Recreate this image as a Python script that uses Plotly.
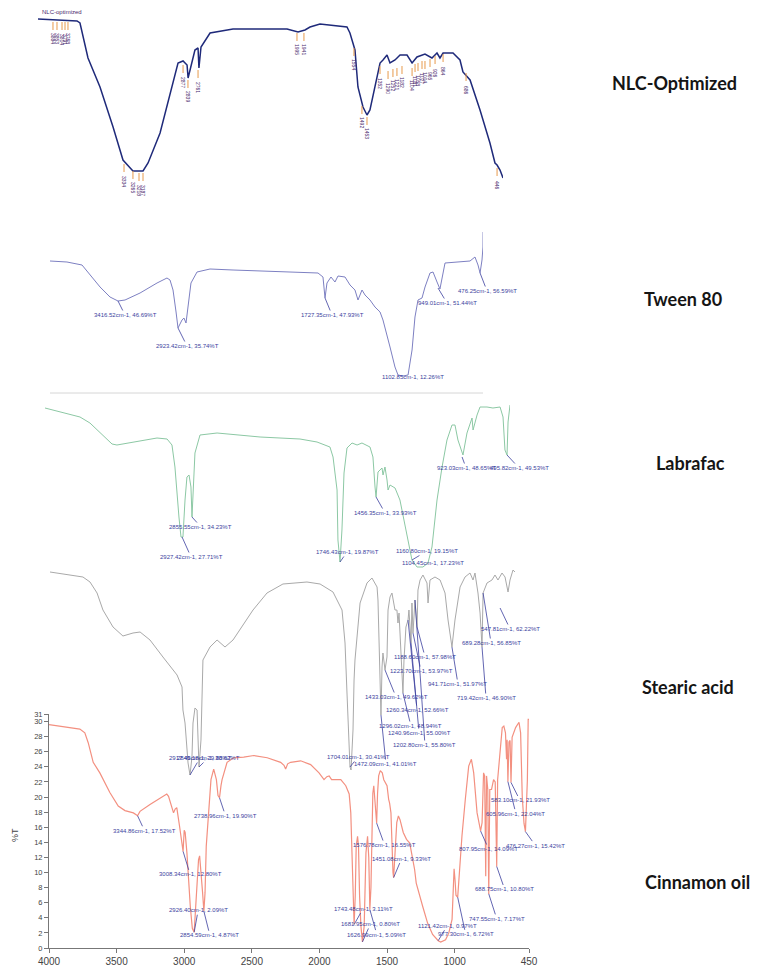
import plotly.graph_objects as go

W, H = 760, 975
OFF = 8  # page body margin of the viewer

# ---------------- data (wavenumber cm-1, %T) ----------------
nlc_wn = [4000,3698,3675,3613,3520,3419,3342,3265,3187,3148,3055,2978,2916,2877,2846,2838,2808,2785,2761,2754,
          2738,2668,2490,2072,1987,1933,1894,1817,1608,1585,1546,1523,1484,1453,1430,1391,1352,1329,1298,1275,
          1236,1197,1143,1104,1066,1004,950,911,888,864,787,733,710,655,578,501,462,446,423,400]
nlc_T = [98,97,96,78.5,64,44,27.5,22,22,26,41,61,76,77,75,68.5,76.5,82.5,83.5,73.5,
         84,91,93,93,91.5,92.5,94,95.5,94,91,82.5,64,54,50,52.5,64,76,77.5,80,76,
         77.5,80,80,76,79,80.5,78.5,81,78.5,81,81,77.5,71.5,67.5,52.5,36,26,25,22.5,18.5]
nlc_mark_wn = [3884,3853,3814,3791,3768,3334,3265,3218,3187,2877,2839,2761,1995,1941,1554,1492,1453,
               1352,1290,1252,1221,1182,1104,1081,1058,1027,1004,965,926,864,686,446]
nlc_mark_T = [97,97,97,97,97,26,22.5,21.5,21.5,75.5,68,73,91.5,91.5,84,55,49.5,
              75,72.5,73.5,74,75,74,76,76.5,77.5,77.5,78.5,80,81,71.5,24]

tw_wn = [4000,3860,3736,3686,3587,3505,3439,3381,3257,3117,3035,3010,2985,2960,2944,2911,2895,2878,2861,2837,
         2787,2680,2490,2210,1937,1789,1748,1731,1715,1682,1649,1624,1566,1525,1484,1459,1426,1401,1360,1319,
         1277,1253,1195,1154,1129,1088,1046,1013,989,964,931,906,865,840,807,783,741,642,535,494,
         469,452,436,428,427]
tw_T = [69.5,69,67.5,64,56.5,51.5,49.5,50,53.5,58.5,61,60,55,44,36,40,41,38.5,46.5,58.5,
        64,65.5,65,64.5,64,63.5,61.5,51,58.5,61.5,59,62,61.5,57.5,55,50,55,52.5,50,46.5,
        44,40,26.5,16.5,12.5,12,12.5,25,41.5,50,51,56.5,63.5,64,59,55.5,68.5,69,69.5,71.5,
        67.5,63.5,70,76.5,84]
tw_lab = ["3416.52cm-1, 46.69%T", "2923.42cm-1, 35.74%T", "1727.35cm-1, 47.93%T",
          "1102.85cm-1, 12.26%T", "949.01cm-1, 51.44%T", "476.25cm-1, 56.59%T"]
tw_lab_wn = [3439, 2944, 1731, 1088, 799, 452]
tw_lab_T = [49.5, 36, 51, 12, 56, 63.5]

lb_wn = [4000,3884,3729,3652,3574,3481,3443,3319,3133,3055,3017,2994,2978,2963,2947,2932,2916,2901,2885,2870,
         2862,2854,2839,2800,2668,2335,2026,1894,1794,1770,1739,1732,1716,1701,1685,1662,1623,1584,1546,1484,
         1461,1445,1437,1422,1391,1383,1368,1352,1344,1329,1290,1252,1213,1190,1159,1120,1074,1035,1004,965,
         926,888,849,826,803,764,733,710,694,686,655,632,578,532,477,454,439,423,415,400]
lb_T = [96,94,91.5,88.5,83.5,78,77.5,79,81,80.5,77.5,66.5,51.5,41.5,31.5,31.5,50,61.5,62.5,56.5,
        41.5,55,73.5,82.5,83.5,81.5,80.5,79,76.5,71.5,55,30,19,35,63.5,76,78.5,77.5,78.5,76.5,
        71.5,56.5,51.5,64,66,62.5,66.5,60,55,57.5,56,50,38.5,30,20,16.5,16.5,18.5,26.5,50,
        66.5,80,87.5,87.5,80,72.5,83.5,88.5,91,85,92.5,96.5,96.5,96,96.5,91.5,75,72.5,89,97.5]
lb_lab = ["2855.55cm-1, 34.23%T", "2927.42cm-1, 27.71%T", "1746.43cm-1, 19.87%T",
          "1456.35cm-1, 33.93%T", "1160.80cm-1, 19.15%T", "1104.45cm-1, 17.23%T",
          "923.03cm-1, 48.65%T", "495.82cm-1, 49.53%T"]
lb_lab_wn = [2862, 2939, 1716, 1437, 1159, 1120, 771, 423]
lb_lab_T = [41.5, 31.5, 19, 51.5, 20, 16.5, 71.5, 72.5]

st_wn = [4000,3847,3748,3694,3640,3595,3518,3442,3365,3311,3235,3136,3028,2990,2983,2967,2944,2929,2914,2906,
         2891,2875,2868,2860,2845,2837,2830,2776,2722,2661,2600,2447,2340,2218,2034,1934,1835,1766,1743,1728,
         1720,1705,1697,1682,1674,1667,1628,1575,1537,1498,1491,1468,1460,1453,1437,1422,1414,1399,1384,1376,
         1361,1346,1338,1330,1315,1300,1292,1277,1261,1254,1238,1231,1223,1208,1192,1185,1169,1147,1116,1108,
         1093,1055,1016,978,955,925,902,863,825,787,764,749,726,710,695,687,657,619,596,573,
         542,519,496,481,458,443]
st_T = [69.6,69,68.6,67.6,65.4,62,58.6,56.8,57.4,57.6,56,52.6,49,46.6,42,39.4,31.4,29,32.6,39.4,
        42.4,42,37.4,30.6,36,44,52,54.6,56,54.6,56,62,65.4,67.2,67.6,67.2,65.6,62,55.4,45.4,
        39.4,30.6,30,38,48,52,63.4,67.4,68.4,66.6,64,41,50.6,53.4,50,52.6,62,64.6,65.4,64,
        62,62,59.4,61.4,54.6,45.4,52,58.6,60,62,55.4,63.4,57.4,64,58.6,66,68,69,67.4,63.4,
        68,68.6,68,65.4,60,54.6,60,66.6,68.6,69.4,68,69.4,65.4,61.4,54.6,65.4,67.4,68,69,68,
        69.4,68.6,65.6,68,70,69.6]
st_lab = ["2917.45cm-1, 29.88%T", "2849.18cm-1, 30.62%T", "1704.01cm-1, 30.41%T",
          "1472.09cm-1, 41.01%T", "1433.03cm-1, 49.62%T", "1296.02cm-1, 48.94%T",
          "1240.96cm-1, 55.00%T", "1202.80cm-1, 55.80%T", "1260.34cm-1, 52.66%T",
          "1188.60cm-1, 57.98%T", "1223.70cm-1, 53.97%T", "941.71cm-1, 51.97%T",
          "719.42cm-1, 46.90%T", "547.81cm-1, 62.22%T", "689.28cm-1, 56.85%T"]
st_lab_wn = [2929, 2860, 1705, 1468, 1437, 1300, 1238, 1208, 1261, 1192, 1223, 925, 695, 557, 687]
st_lab_T = [29, 30.6, 30.6, 41, 50, 45.4, 55.4, 64, 60, 58.6, 57.4, 54.6, 54.6, 62.4, 65.4]

cn_wn = [4000,3930,3870,3772,3735,3710,3673,3624,3550,3488,
         3438,3376,3344.86,3327,3253,3178,3129,3116,3092,3079,
         3067,3055,3035,3008.34,3000,2993,2980,2968,2955,2940,
         2926.40,2918,2906,2894,2886,2874,2864,2854.59,2846,2837,
         2819,2802,2782,2762,2750,2738.96,2728,2720,2683,2634,
         2560,2485,2386,2287,2262,2250,2235,2213,2139,2065,
         2003,1966,1945,1928,1910,1891,1842,1805,1780,1768,
         1761,1750,1743.48,1735,1728,1718,1711,1703,1693,1681.95,
         1669,1656,1644,1635,1626.99,1619,1612,1605,1598,1590,
         1586,1576.78,1570,1562,1550,1535,1524,1500,1488,1481,
         1471,1464,1456,1451.08,1440,1428,1416,1404,1380,1356,
         1332,1308,1296,1284,1260,1236,1200,1163,1121.42,1103,
         1067,1043,1019,1010,1004,997,990,977.30,968,946,
         921,896,876,859,834,815,807.95,797,786,778,
         770,764,755,747.55,740,727,712,700,688.75,682,
         670,648,636,624,616,612,605.96,598,590,583.10,
         575,549,524,512,500,487,476.27,468,462,456,
         450]
cn_T = [29.6,29.4,29.3,29.0,28.5,27.2,24.6,23.2,20.6,18.8,
        18.2,17.9,17.52,18.1,19.0,19.9,20.4,20.1,18.8,17.9,
        18.4,18.6,16.2,12.80,15.6,15.3,12.6,9.1,5.5,2.6,
        2.09,4.6,7.7,11.7,12.2,10.0,7.3,4.87,7.3,13.5,
        18.4,22.3,23.7,22.3,20.2,19.90,21.5,22.3,24.6,25.2,
        25.3,25.5,25.2,24.6,24.2,23.7,24.4,24.6,24.8,24.3,
        23.2,22.3,22.7,22.8,22.3,22.3,22.3,21.5,20.4,17.9,
        13.5,6.9,3.11,6.9,13.5,14.8,13.5,6.9,2.9,0.80,
        2.9,12.6,14.8,12.0,5.09,8.0,13.5,20.5,21.5,19.0,
        18.0,16.55,20.5,22.8,23.5,23.2,22.3,21.5,19.7,19.2,
        17.9,13.5,10.0,9.33,12.2,16.6,17.5,17.0,15.3,14.4,
        13.9,11.7,10.4,8.6,6.9,5.5,3.3,1.8,0.97,0.8,
        1.1,2.0,3.8,9.0,10.5,9.0,7.0,6.72,9.5,14.8,
        19.7,24.1,25.0,23.2,17.9,15.9,15.5,16.6,23.2,22.8,
        9.5,22.8,21.0,7.17,21.0,21.0,22.3,22.0,10.80,22.3,
        25.0,29.2,29.4,28.5,25.0,27.6,22.04,27.3,27.5,21.93,
        27.9,29.2,29.9,28.5,20.1,16.5,15.42,19.0,22.3,30.3,
        30.3]
cn_lab = ["3344.86cm-1, 17.52%T", "3008.34cm-1, 12.80%T", "2738.96cm-1, 19.90%T",
          "2926.40cm-1, 2.09%T", "2854.59cm-1, 4.87%T", "1743.48cm-1, 3.11%T",
          "1681.95cm-1, 0.80%T", "1626.99cm-1, 5.09%T", "1576.78cm-1, 16.55%T",
          "1451.08cm-1, 9.33%T", "1121.42cm-1, 0.97%T", "977.30cm-1, 6.72%T",
          "747.55cm-1, 7.17%T", "688.75cm-1, 10.80%T", "807.95cm-1, 14.09%T",
          "476.27cm-1, 15.42%T", "583.10cm-1, 21.93%T", "605.96cm-1, 22.04%T"]
cn_lab_wn = [3344.86, 3008.34, 2738.96, 2926.40, 2854.59, 1743.48, 1681.95, 1626.99, 1576.78,
             1451.08, 1121.42, 977.30, 747.55, 688.75, 807.95, 476.27, 583.10, 605.96]
cn_lab_T = [17.52, 12.80, 19.90, 2.09, 4.87, 3.11, 0.80, 5.09, 16.55,
            9.33, 0.97, 6.72, 7.17, 10.80, 15.5, 15.42, 21.93, 22.04]

x_ticks = [4000, 3500, 3000, 2500, 2000, 1500, 1000, 450]
y_ticks = [0, 2, 4, 6, 8, 10, 12, 14, 16, 18, 20, 22, 24, 26, 28, 30, 31]
names = ["NLC-Optimized", "Tween 80", "Labrafac", "Stearic acid", "Cinnamon oil"]

# ---------------- layout / styling ----------------
def px_x(a):
    return min(1.0, max(0.0, (a - OFF) / W))

def px_y(b):
    return min(1.0, max(0.0, 1 - (b - OFF) / H))

def xd(a, b):
    return [px_x(a), px_x(b)]

def yd(top, bot):
    return [px_y(bot), px_y(top)]

LAB_COL = "#3b3f9e"
FONT = "Liberation Sans, Arial"
panels = [
    dict(xdom=(38, 503), xr=[4000, 400], ydom=(8, 200), yr=[7.5, 103.5], color="#1f2a7a", w=1.5),
    dict(xdom=(50, 483), xr=[4000, 427.75], ydom=(225, 393), yr=[3.5, 87.5], color="#7d80c2", w=1.0),
    dict(xdom=(45, 510), xr=[4000, 400], ydom=(398, 575), yr=[12.5, 101], color="#8cc8a4", w=1.0),
    dict(xdom=(50, 515), xr=[4000, 442.75], ydom=(565, 790), yr=[26, 71], color="#a9a9a9", w=1.0),
    dict(xdom=(49, 529), xr=[4000, 450], ydom=(714, 948), yr=[0, 31], color="#f39080", w=1.2),
]
series = [(nlc_wn, nlc_T), (tw_wn, tw_T), (lb_wn, lb_T), (st_wn, st_T), (cn_wn, cn_T)]

fig = go.Figure()
layout = dict(width=W, height=H, autosize=False, margin=dict(l=0, r=0, t=0, b=0, pad=0),
              paper_bgcolor="white", plot_bgcolor="rgba(0,0,0,0)", showlegend=False)

for i, (p, (xs, ys)) in enumerate(zip(panels, series), start=1):
    sx = "" if i == 1 else str(i)
    fig.add_trace(go.Scatter(x=xs, y=ys, mode="lines", line=dict(color=p["color"], width=p["w"]),
                             xaxis="x" + sx, yaxis="y" + sx, hoverinfo="skip"))
    layout["xaxis" + sx] = dict(domain=xd(*p["xdom"]), range=p["xr"], anchor="y" + sx,
                                visible=False, automargin=False)
    layout["yaxis" + sx] = dict(domain=yd(*p["ydom"]), range=p["yr"], anchor="x" + sx,
                                visible=False, automargin=False)

# bottom panel has visible axes
layout["xaxis5"].update(visible=True, showline=True, linecolor="#777", linewidth=1, ticks="outside",
                        ticklen=4, tickcolor="#777", tickvals=x_ticks, showgrid=False, zeroline=False,
                        tickfont=dict(family=FONT, size=10, color="#444"))
layout["yaxis5"].update(visible=True, showline=True, linecolor="#777", linewidth=1, ticks="outside",
                        ticklen=4, tickcolor="#777", tickvals=y_ticks, showgrid=False, zeroline=False,
                        tickfont=dict(family=FONT, size=7.5, color="#444"))

# NLC orange peak markers
mx, my = [], []
for w_, t_ in zip(nlc_mark_wn, nlc_mark_T):
    mx += [w_, w_, None]
    my += [t_ - 0.5, t_ - 4.5, None]
fig.add_trace(go.Scatter(x=mx, y=my, mode="lines", line=dict(color="#e79a4c", width=1),
                         xaxis="x", yaxis="y", hoverinfo="skip"))

fig.update_layout(**layout)

ann = []
for w_, t_ in zip(nlc_mark_wn, nlc_mark_T):
    ann.append(dict(x=w_, y=t_ - 4.5, xref="x", yref="y", text=str(w_), showarrow=False,
                    textangle=90, yshift=-9, xanchor="center", yanchor="middle",
                    font=dict(family=FONT, size=5, color="#4a2a6e")))
ann.append(dict(x=px_x(40), y=px_y(12), xref="paper", yref="paper", text="NLC-optimized", showarrow=False,
                xanchor="left", yanchor="middle", font=dict(family=FONT, size=6, color="#4a2a6e")))

def add_labels(texts, wns, ts, offs, sx):
    for txt, w_, t_, (dx, dy) in zip(texts, wns, ts, offs):
        ann.append(dict(x=w_, y=t_, xref="x" + sx, yref="y" + sx, text=txt, showarrow=True,
                        ax=dx, ay=dy, arrowhead=0, arrowwidth=0.8, arrowcolor=LAB_COL, standoff=0,
                        font=dict(family=FONT, size=6, color=LAB_COL)))

add_labels(tw_lab, tw_lab_wn, tw_lab_T, [(7, 14), (9, 18), (7, 17), (10, 1), (9, 15), (7, 18)], "2")
add_labels(lb_lab, lb_lab_wn, lb_lab_T, [(9, 10), (9, 20), (7, -10), (9, 16), (15, -9), (16, -4), (4, 11), (12, 13)], "3")
add_labels(st_lab, st_lab_wn, st_lab_T, [(10, -17), (9, -9), (8, -10), (5, 49), (11, 27), (8, 33), (8, 90),
                                         (10, 145), (9, 90), (8, 30), (8, 38), (6, 37), (4, 51), (10, 21), (8, 50)], "4")
add_labels(cn_lab, cn_lab_wn, cn_lab_T, [(7, 15), (7, 23), (6, 18), (4, -22), (6, 24), (9, -16), (8, -18),
                                         (7, 25), (8, 22), (8, -19), (9, -15), (8, 37), (8, 25), (8, 23),
                                         (8, 18), (10, 14), (9, 18), (8, 32)], "5")

title_pos = [(674, 83), (683, 299), (690, 463), (688, 687), (697, 882)]
for name, (px, py) in zip(names, title_pos):
    ann.append(dict(x=px_x(px), y=px_y(py), xref="paper", yref="paper", text="<b>" + name + "</b>",
                    showarrow=False, xanchor="center", yanchor="middle",
                    font=dict(family="Lato, Open Sans", size=18, color="#151515")))
ann.append(dict(x=px_x(15), y=px_y(835), xref="paper", yref="paper", text="%T", showarrow=False,
                textangle=-90, xanchor="center", yanchor="middle",
                font=dict(family=FONT, size=9, color="#444")))

# separator line under Tween 80
fig.add_shape(type="line", xref="x2 domain", yref="y2 domain", x0=0, x1=1, y0=0, y1=0,
              line=dict(color="#d6d6d6", width=1))

fig.update_layout(annotations=ann)
fig.write_html("out.html")
